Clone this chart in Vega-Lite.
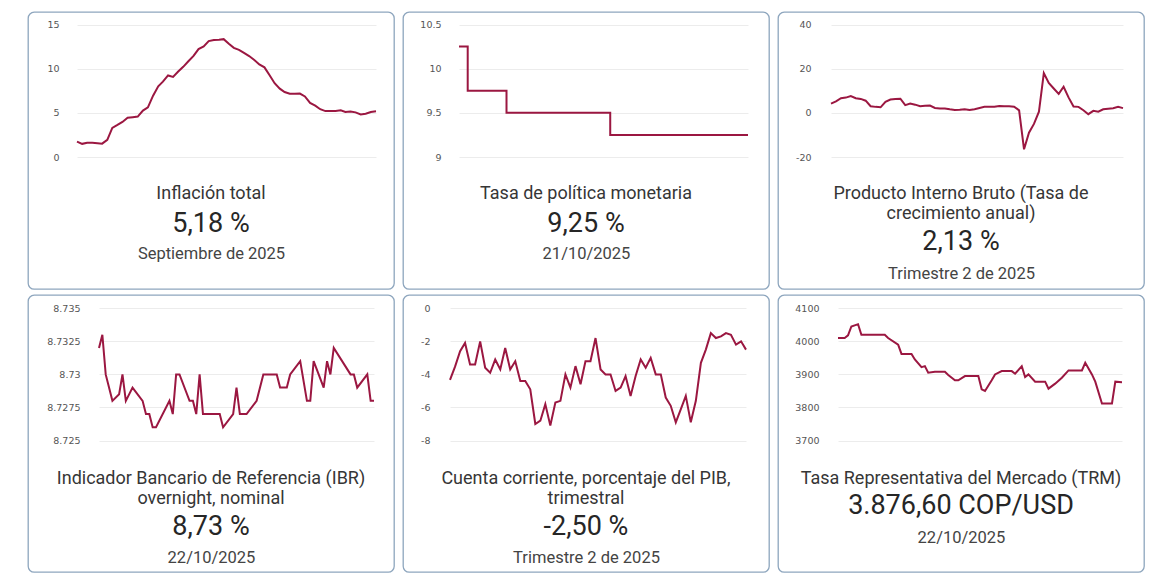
{
  "$schema": "https://vega.github.io/schema/vega-lite/v6.json",
  "background": "white",
  "padding": {"left": 27, "top": 11, "right": 0, "bottom": 0},
  "spacing": 4,
  "config": {
    "view": {"stroke": "#8ea6be", "strokeWidth": 1.3, "cornerRadius": 6, "fill": "white"},
    "line": {"color": "#9b1741", "strokeWidth": 2},
    "axisY": {"domain": false, "ticks": false, "grid": true, "gridColor": "#ececec", "gridWidth": 1, "labelPadding": 0, "labelFont": "DejaVu Sans", "labelFontSize": 9.5, "labelColor": "#555555", "labelExpr": "datum.value + ''", "title": null},
    "axisX": {"domain": false, "ticks": false, "grid": false, "labels": false, "titleFont": "Roboto", "titleFontSize": 16.5, "titleFontWeight": "normal", "titleColor": "#444444", "titleX": 183, "titleAlign": "center", "titleBaseline": "middle"},
    "title": {"orient": "bottom", "anchor": "middle", "frame": "group", "baseline": "top", "font": "Roboto", "fontSize": 18, "fontWeight": "normal", "color": "#363636", "lineHeight": 20, "subtitleFont": "Roboto", "subtitleFontSize": 27, "subtitleColor": "#262626"}
  },
  "datasets": {
    "inf": [
      {"t": "2020-10-01", "v": 1.75}, {"t": "2020-11-01", "v": 1.49}, {"t": "2020-12-01", "v": 1.61},
      {"t": "2021-01-01", "v": 1.60}, {"t": "2021-02-01", "v": 1.56}, {"t": "2021-03-01", "v": 1.51}, {"t": "2021-04-01", "v": 1.95},
      {"t": "2021-05-01", "v": 3.30}, {"t": "2021-06-01", "v": 3.63}, {"t": "2021-07-01", "v": 3.97}, {"t": "2021-08-01", "v": 4.44},
      {"t": "2021-09-01", "v": 4.51}, {"t": "2021-10-01", "v": 4.58}, {"t": "2021-11-01", "v": 5.26}, {"t": "2021-12-01", "v": 5.62},
      {"t": "2022-01-01", "v": 6.94}, {"t": "2022-02-01", "v": 8.01}, {"t": "2022-03-01", "v": 8.53}, {"t": "2022-04-01", "v": 9.23},
      {"t": "2022-05-01", "v": 9.07}, {"t": "2022-06-01", "v": 9.67}, {"t": "2022-07-01", "v": 10.21}, {"t": "2022-08-01", "v": 10.84},
      {"t": "2022-09-01", "v": 11.44}, {"t": "2022-10-01", "v": 12.22}, {"t": "2022-11-01", "v": 12.53}, {"t": "2022-12-01", "v": 13.12},
      {"t": "2023-01-01", "v": 13.25}, {"t": "2023-02-01", "v": 13.28}, {"t": "2023-03-01", "v": 13.34}, {"t": "2023-04-01", "v": 12.82},
      {"t": "2023-05-01", "v": 12.36}, {"t": "2023-06-01", "v": 12.13}, {"t": "2023-07-01", "v": 11.78}, {"t": "2023-08-01", "v": 11.43},
      {"t": "2023-09-01", "v": 10.99}, {"t": "2023-10-01", "v": 10.48}, {"t": "2023-11-01", "v": 10.15}, {"t": "2023-12-01", "v": 9.28},
      {"t": "2024-01-01", "v": 8.35}, {"t": "2024-02-01", "v": 7.74}, {"t": "2024-03-01", "v": 7.36}, {"t": "2024-04-01", "v": 7.16},
      {"t": "2024-05-01", "v": 7.16}, {"t": "2024-06-01", "v": 7.18}, {"t": "2024-07-01", "v": 6.86}, {"t": "2024-08-01", "v": 6.12},
      {"t": "2024-09-01", "v": 5.81}, {"t": "2024-10-01", "v": 5.41}, {"t": "2024-11-01", "v": 5.20}, {"t": "2024-12-01", "v": 5.20},
      {"t": "2025-01-01", "v": 5.22}, {"t": "2025-02-01", "v": 5.28}, {"t": "2025-03-01", "v": 5.09}, {"t": "2025-04-01", "v": 5.16},
      {"t": "2025-05-01", "v": 5.05}, {"t": "2025-06-01", "v": 4.82}, {"t": "2025-07-01", "v": 4.90}, {"t": "2025-08-01", "v": 5.10},
      {"t": "2025-09-01", "v": 5.18}
    ],
    "tpm": [
      {"t": "2024-10-21", "v": 10.25}, {"t": "2024-11-01", "v": 9.75}, {"t": "2024-12-20", "v": 9.5},
      {"t": "2025-04-30", "v": 9.25}, {"t": "2025-10-21", "v": 9.25}
    ],
    "pib": [
      {"t": "2010-07-01", "v": 4.2}, {"t": "2010-10-01", "v": 5.2},
      {"t": "2011-01-01", "v": 6.6}, {"t": "2011-04-01", "v": 6.9}, {"t": "2011-07-01", "v": 7.6}, {"t": "2011-10-01", "v": 6.6},
      {"t": "2012-01-01", "v": 6.3}, {"t": "2012-04-01", "v": 5.5}, {"t": "2012-07-01", "v": 3.0}, {"t": "2012-10-01", "v": 2.7},
      {"t": "2013-01-01", "v": 2.5}, {"t": "2013-04-01", "v": 5.0}, {"t": "2013-07-01", "v": 6.0}, {"t": "2013-10-01", "v": 6.3},
      {"t": "2014-01-01", "v": 6.4}, {"t": "2014-04-01", "v": 3.5}, {"t": "2014-07-01", "v": 4.2}, {"t": "2014-10-01", "v": 3.7},
      {"t": "2015-01-01", "v": 3.0}, {"t": "2015-04-01", "v": 3.2}, {"t": "2015-07-01", "v": 3.3}, {"t": "2015-10-01", "v": 2.2},
      {"t": "2016-01-01", "v": 2.0}, {"t": "2016-04-01", "v": 2.0}, {"t": "2016-07-01", "v": 1.6}, {"t": "2016-10-01", "v": 1.3},
      {"t": "2017-01-01", "v": 1.4}, {"t": "2017-04-01", "v": 1.6}, {"t": "2017-07-01", "v": 1.3}, {"t": "2017-10-01", "v": 1.6},
      {"t": "2018-01-01", "v": 2.2}, {"t": "2018-04-01", "v": 2.7}, {"t": "2018-07-01", "v": 2.7}, {"t": "2018-10-01", "v": 2.8},
      {"t": "2019-01-01", "v": 3.1}, {"t": "2019-04-01", "v": 3.0}, {"t": "2019-07-01", "v": 3.0}, {"t": "2019-10-01", "v": 2.8},
      {"t": "2020-01-01", "v": 1.1}, {"t": "2020-04-01", "v": -16.5}, {"t": "2020-07-01", "v": -9.0}, {"t": "2020-10-01", "v": -5.0},
      {"t": "2021-01-01", "v": 0.5}, {"t": "2021-04-01", "v": 18.0}, {"t": "2021-07-01", "v": 13.5}, {"t": "2021-10-01", "v": 11.0},
      {"t": "2022-01-01", "v": 8.6}, {"t": "2022-04-01", "v": 11.8}, {"t": "2022-07-01", "v": 7.0}, {"t": "2022-10-01", "v": 2.9},
      {"t": "2023-01-01", "v": 2.7}, {"t": "2023-04-01", "v": 1.2}, {"t": "2023-07-01", "v": -0.6}, {"t": "2023-10-01", "v": 0.9},
      {"t": "2024-01-01", "v": 0.5}, {"t": "2024-04-01", "v": 1.6}, {"t": "2024-07-01", "v": 1.9}, {"t": "2024-10-01", "v": 2.1},
      {"t": "2025-01-01", "v": 2.7}, {"t": "2025-04-01", "v": 2.13}
    ],
    "ibr": [
      {"k": 0, "v": 8.732}, {"k": 1, "v": 8.733}, {"k": 2, "v": 8.730}, {"k": 4, "v": 8.728}, {"k": 6, "v": 8.7285},
      {"k": 7, "v": 8.730}, {"k": 8, "v": 8.728}, {"k": 10, "v": 8.729}, {"k": 13, "v": 8.728}, {"k": 14, "v": 8.727},
      {"k": 15, "v": 8.727}, {"k": 16, "v": 8.726}, {"k": 17, "v": 8.726}, {"k": 21, "v": 8.728}, {"k": 22, "v": 8.727},
      {"k": 23, "v": 8.730}, {"k": 24, "v": 8.730}, {"k": 27, "v": 8.728}, {"k": 28, "v": 8.728}, {"k": 29, "v": 8.727},
      {"k": 30, "v": 8.730}, {"k": 31, "v": 8.727}, {"k": 36, "v": 8.727}, {"k": 37, "v": 8.726}, {"k": 40, "v": 8.727},
      {"k": 41, "v": 8.729}, {"k": 42, "v": 8.727}, {"k": 44, "v": 8.727}, {"k": 47, "v": 8.728}, {"k": 49, "v": 8.730},
      {"k": 53, "v": 8.730}, {"k": 54, "v": 8.729}, {"k": 56, "v": 8.729}, {"k": 57, "v": 8.730}, {"k": 60, "v": 8.731},
      {"k": 62, "v": 8.728}, {"k": 63, "v": 8.728}, {"k": 64, "v": 8.731}, {"k": 67, "v": 8.729}, {"k": 68, "v": 8.731},
      {"k": 69, "v": 8.730}, {"k": 70, "v": 8.732}, {"k": 75, "v": 8.730}, {"k": 76, "v": 8.730}, {"k": 77, "v": 8.729},
      {"k": 80, "v": 8.730}, {"k": 81, "v": 8.728}, {"k": 82, "v": 8.728}
    ],
    "cc": [
      {"t": "2010-07-01", "v": -4.33}, {"t": "2010-10-01", "v": -3.53},
      {"t": "2011-01-01", "v": -2.6}, {"t": "2011-04-01", "v": -2.1}, {"t": "2011-07-01", "v": -3.4}, {"t": "2011-10-01", "v": -3.4},
      {"t": "2012-01-01", "v": -2.0}, {"t": "2012-04-01", "v": -3.6}, {"t": "2012-07-01", "v": -3.9}, {"t": "2012-10-01", "v": -3.1},
      {"t": "2013-01-01", "v": -3.7}, {"t": "2013-04-01", "v": -2.4}, {"t": "2013-07-01", "v": -3.7}, {"t": "2013-10-01", "v": -3.2},
      {"t": "2014-01-01", "v": -4.4}, {"t": "2014-04-01", "v": -4.4}, {"t": "2014-07-01", "v": -4.9}, {"t": "2014-10-01", "v": -7.0},
      {"t": "2015-01-01", "v": -6.8}, {"t": "2015-04-01", "v": -5.8}, {"t": "2015-07-01", "v": -7.1}, {"t": "2015-10-01", "v": -5.7},
      {"t": "2016-01-01", "v": -5.6}, {"t": "2016-04-01", "v": -4.0}, {"t": "2016-07-01", "v": -4.8}, {"t": "2016-10-01", "v": -3.5},
      {"t": "2017-01-01", "v": -4.6}, {"t": "2017-04-01", "v": -3.2}, {"t": "2017-07-01", "v": -3.2}, {"t": "2017-10-01", "v": -1.8},
      {"t": "2018-01-01", "v": -3.7}, {"t": "2018-04-01", "v": -4.0}, {"t": "2018-07-01", "v": -4.0}, {"t": "2018-10-01", "v": -5.0},
      {"t": "2019-01-01", "v": -4.8}, {"t": "2019-04-01", "v": -4.1}, {"t": "2019-07-01", "v": -5.3}, {"t": "2019-10-01", "v": -4.1},
      {"t": "2020-01-01", "v": -3.1}, {"t": "2020-04-01", "v": -3.6}, {"t": "2020-07-01", "v": -3.0}, {"t": "2020-10-01", "v": -4.0},
      {"t": "2021-01-01", "v": -4.0}, {"t": "2021-04-01", "v": -5.4}, {"t": "2021-07-01", "v": -5.9}, {"t": "2021-10-01", "v": -6.9},
      {"t": "2022-01-01", "v": -6.1}, {"t": "2022-04-01", "v": -5.3}, {"t": "2022-07-01", "v": -6.9}, {"t": "2022-10-01", "v": -5.6},
      {"t": "2023-01-01", "v": -3.3}, {"t": "2023-04-01", "v": -2.5}, {"t": "2023-07-01", "v": -1.5}, {"t": "2023-10-01", "v": -1.8},
      {"t": "2024-01-01", "v": -1.7}, {"t": "2024-04-01", "v": -1.5}, {"t": "2024-07-01", "v": -1.6}, {"t": "2024-10-01", "v": -2.2},
      {"t": "2025-01-01", "v": -2.0}, {"t": "2025-04-01", "v": -2.5}
    ],
    "trm": [
      {"k": 0, "v": 4010}, {"k": 2, "v": 4010}, {"k": 3, "v": 4018}, {"k": 4, "v": 4045}, {"k": 6, "v": 4052},
      {"k": 7, "v": 4020}, {"k": 9, "v": 4020}, {"k": 14, "v": 4020}, {"k": 15, "v": 4010}, {"k": 18, "v": 3990},
      {"k": 19, "v": 3962}, {"k": 22, "v": 3962}, {"k": 23, "v": 3945}, {"k": 25, "v": 3922}, {"k": 26, "v": 3925},
      {"k": 27, "v": 3905}, {"k": 29, "v": 3908}, {"k": 32, "v": 3908}, {"k": 33, "v": 3898}, {"k": 35, "v": 3882},
      {"k": 36, "v": 3882}, {"k": 38, "v": 3895}, {"k": 42, "v": 3895}, {"k": 43, "v": 3855}, {"k": 44, "v": 3850},
      {"k": 46, "v": 3882}, {"k": 47, "v": 3900}, {"k": 49, "v": 3910}, {"k": 52, "v": 3910}, {"k": 53, "v": 3902},
      {"k": 55, "v": 3925}, {"k": 56, "v": 3892}, {"k": 57, "v": 3900}, {"k": 59, "v": 3878}, {"k": 62, "v": 3878},
      {"k": 63, "v": 3857}, {"k": 65, "v": 3872}, {"k": 67, "v": 3890}, {"k": 69, "v": 3912}, {"k": 73, "v": 3912},
      {"k": 74, "v": 3935}, {"k": 76, "v": 3900}, {"k": 77, "v": 3878}, {"k": 79, "v": 3812}, {"k": 82, "v": 3812},
      {"k": 83, "v": 3878}, {"k": 85, "v": 3876.6}
    ]
  },
  "vconcat": [
    {
      "spacing": 7,
      "hconcat": [
        {
          "width": 366, "height": 277,
          "data": {"name": "inf"},
          "title": {"text": "Inflación total", "subtitle": "5,18 %", "offset": -104, "subtitlePadding": 7.8},
          "mark": "line",
          "encoding": {
            "x": {"field": "t", "type": "temporal", "scale": {"range": [49, 348], "nice": false}, "axis": {"title": "Septiembre de 2025", "titleY": -36}},
            "y": {"field": "v", "type": "quantitative", "scale": {"domain": [0, 15], "range": [145, 12.5], "nice": false, "zero": false}, "axis": {"values": [0, 5, 10, 15], "offset": -31}}
          }
        },
        {
          "width": 366, "height": 277,
          "data": {"name": "tpm"},
          "title": {"text": "Tasa de política monetaria", "subtitle": "9,25 %", "offset": -104, "subtitlePadding": 7.8},
          "mark": {"type": "line", "interpolate": "step-after"},
          "encoding": {
            "x": {"field": "t", "type": "temporal", "scale": {"range": [56, 345], "nice": false}, "axis": {"title": "21/10/2025", "titleY": -36}},
            "y": {"field": "v", "type": "quantitative", "scale": {"domain": [9, 10.5], "range": [145, 12.5], "nice": false, "zero": false}, "axis": {"values": [9, 9.5, 10, 10.5], "offset": -38}}
          }
        },
        {
          "width": 366, "height": 277,
          "data": {"name": "pib"},
          "title": {"text": ["Producto Interno Bruto (Tasa de", "crecimiento anual)"], "subtitle": "2,13 %", "offset": -104, "subtitlePadding": 6},
          "mark": "line",
          "encoding": {
            "x": {"field": "t", "type": "temporal", "scale": {"range": [53, 345], "nice": false}, "axis": {"title": "Trimestre 2 de 2025", "titleY": -16}},
            "y": {"field": "v", "type": "quantitative", "scale": {"domain": [-20, 40], "range": [145, 12.5], "nice": false, "zero": false}, "axis": {"values": [-20, 0, 20, 40], "offset": -33}}
          }
        }
      ]
    },
    {
      "spacing": 7,
      "hconcat": [
        {
          "width": 366, "height": 277,
          "data": {"name": "ibr"},
          "title": {"text": ["Indicador Bancario de Referencia (IBR)", "overnight, nominal"], "subtitle": "8,73 %", "offset": -102, "subtitlePadding": 6.5, "lineHeight": 19.5},
          "mark": "line",
          "encoding": {
            "x": {"field": "k", "type": "quantitative", "scale": {"range": [71, 346], "nice": false, "zero": false}, "axis": {"title": "22/10/2025", "titleY": -15}},
            "y": {"field": "v", "type": "quantitative", "scale": {"domain": [8.725, 8.735], "range": [145.5, 13.3], "nice": false, "zero": false}, "axis": {"values": [8.725, 8.7275, 8.73, 8.7325, 8.735], "offset": -52}}
          }
        },
        {
          "width": 366, "height": 277,
          "data": {"name": "cc"},
          "title": {"text": ["Cuenta corriente, porcentaje del PIB,", "trimestral"], "subtitle": "-2,50 %", "offset": -102, "subtitlePadding": 6.5, "lineHeight": 19.5},
          "mark": "line",
          "encoding": {
            "x": {"field": "t", "type": "temporal", "scale": {"range": [47, 343], "nice": false}, "axis": {"title": "Trimestre 2 de 2025", "titleY": -15}},
            "y": {"field": "v", "type": "quantitative", "scale": {"domain": [-8, 0], "range": [145.5, 13.3], "nice": false, "zero": false}, "axis": {"values": [-8, -6, -4, -2, 0], "offset": -27}}
          }
        },
        {
          "width": 366, "height": 277,
          "data": {"name": "trm"},
          "title": {"text": "Tasa Representativa del Mercado (TRM)", "subtitle": "3.876,60 COP/USD", "offset": -102, "subtitlePadding": 5.3},
          "mark": "line",
          "encoding": {
            "x": {"field": "k", "type": "quantitative", "scale": {"range": [60, 344], "nice": false, "zero": false}, "axis": {"title": "22/10/2025", "titleY": -35}},
            "y": {"field": "v", "type": "quantitative", "scale": {"domain": [3700, 4100], "range": [145.5, 13.3], "nice": false, "zero": false}, "axis": {"values": [3700, 3800, 3900, 4000, 4100], "offset": -41}}
          }
        }
      ]
    }
  ]
}
